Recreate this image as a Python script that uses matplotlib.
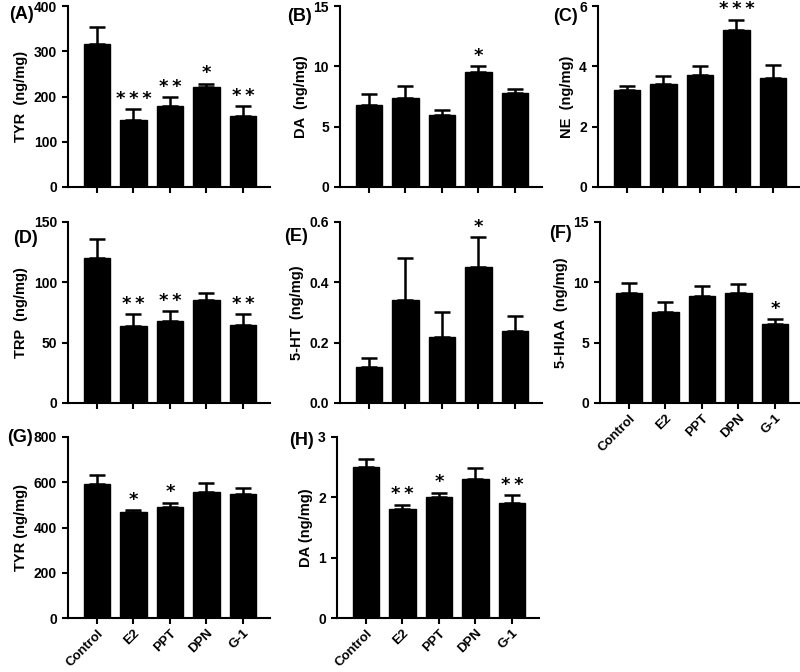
import numpy as np
import matplotlib
matplotlib.use("Agg")
import matplotlib.pyplot as plt

plt.rcParams['font.family'] = ['Liberation Sans', 'DejaVu Sans']
plt.rcParams['font.weight'] = 'bold'

groups = ["Control", "E2", "PPT", "DPN", "G-1"]

# means, upper error (SEM) and significance marks per panel
tyr_mean = [317, 147, 180, 220, 158]
tyr_sem = [36, 25, 18, 8, 20]
tyr_sig = ["", "***", "**", "*", "**"]

da_mean = [6.8, 7.4, 6.0, 9.5, 7.8]
da_sem = [0.9, 1.0, 0.4, 0.5, 0.3]
da_sig = ["", "", "", "*", ""]

ne_mean = [3.2, 3.4, 3.7, 5.2, 3.6]
ne_sem = [0.15, 0.28, 0.31, 0.34, 0.44]
ne_sig = ["", "", "", "***", ""]

trp_mean = [120, 64, 68, 85, 65]
trp_sem = [15.5, 9.7, 8, 6.4, 8.6]
trp_sig = ["", "**", "**", "", "**"]

ht_mean = [0.12, 0.34, 0.22, 0.45, 0.24]
ht_sem = [0.03, 0.14, 0.08, 0.10, 0.05]
ht_sig = ["", "", "", "*", ""]

hiaa_mean = [9.15, 7.55, 8.85, 9.15, 6.55]
hiaa_sem = [0.8, 0.85, 0.85, 0.7, 0.4]
hiaa_sig = ["", "", "", "", "*"]

tyr2_mean = [592, 468, 491, 558, 550]
tyr2_sem = [40, 9, 19, 37, 26]
tyr2_sig = ["", "*", "*", "", ""]

da2_mean = [2.5, 1.8, 2.0, 2.3, 1.9]
da2_sem = [0.14, 0.08, 0.08, 0.18, 0.14]
da2_sig = ["", "**", "*", "", "**"]

panels = [
    ("(A)", "TYR  (ng/mg)", tyr_mean, tyr_sem, tyr_sig, [0, 100, 200, 300, 400], "%d", False),
    ("(B)", "DA  (ng/mg)", da_mean, da_sem, da_sig, [0, 5, 10, 15], "%d", False),
    ("(C)", "NE  (ng/mg)", ne_mean, ne_sem, ne_sig, [0, 2, 4, 6], "%d", False),
    ("(D)", "TRP  (ng/mg)", trp_mean, trp_sem, trp_sig, [0, 50, 100, 150], "%d", False),
    ("(E)", "5-HT  (ng/mg)", ht_mean, ht_sem, ht_sig, [0.0, 0.2, 0.4, 0.6], "%.1f", False),
    ("(F)", "5-HIAA  (ng/mg)", hiaa_mean, hiaa_sem, hiaa_sig, [0, 5, 10, 15], "%d", True),
    ("(G)", "TYR (ng/mg)", tyr2_mean, tyr2_sem, tyr2_sig, [0, 200, 400, 600, 800], "%d", True),
    ("(H)", "DA (ng/mg)", da2_mean, da2_sem, da2_sig, [0, 1, 2, 3], "%d", True),
]

# axes rectangles in pixels (left, zero line from top)
W, H = 800, 672
lefts = [68, 340, 598, 68, 340, 600, 68, 337]
zeros = [187, 187, 187, 403, 403, 403, 618, 618]
aw, ah = 202, 181
# panel tag: right edge, top (pixels)
tag_pos = [(34, 6), (312, 8), (578, 8), (38, 230), (308, 228), (572, 225), (33, 429), (314, 432)]

fig = plt.figure(figsize=(8, 6.72), dpi=100)
x = np.arange(len(groups))

for i, (tag, ylab, mean, sem, sig, yt, fmt, show_x) in enumerate(panels):
    ax = fig.add_axes([lefts[i] / W, (H - zeros[i]) / H, aw / W, ah / H])
    ax.bar(x, mean, width=0.73, color="black", edgecolor="black")
    ax.errorbar(x, mean, yerr=[np.zeros(len(sem)), sem], fmt="none",
                ecolor="black", elinewidth=1.8, capsize=6, capthick=1.8)
    ax.set_xlim(-0.79, 4.74)
    ax.set_ylim(0, yt[-1])
    ax.set_yticks(yt)
    ax.set_yticklabels([fmt % v for v in yt], fontsize=10, fontweight="bold")
    ax.set_xticks(x)
    if show_x:
        ax.set_xticklabels(groups, rotation=45, ha="right", rotation_mode="anchor",
                           fontsize=9.5, fontweight="bold")
    else:
        ax.set_xticklabels([])
    ax.tick_params(direction="out", length=4.5, width=1.5)
    ax.tick_params(axis="x", pad=2)
    for s in ["top", "right"]:
        ax.spines[s].set_visible(False)
    for s in ["left", "bottom"]:
        ax.spines[s].set_linewidth(1.5)
    ax.set_ylabel(ylab, fontsize=10.5, fontweight="bold", labelpad=4)
    for xi, m, e, s in zip(x, mean, sem, sig):
        if s:
            ax.annotate("\u2009".join(s), (xi, m + e), xytext=(0, 1),
                        textcoords="offset points", ha="center", va="bottom",
                        fontsize=13, fontweight="bold", family="DejaVu Sans")
    fig.text(tag_pos[i][0] / W, 1 - tag_pos[i][1] / H, tag, ha="right", va="top",
             fontsize=13, fontweight="bold")

fig.savefig("out.png", dpi=100)
